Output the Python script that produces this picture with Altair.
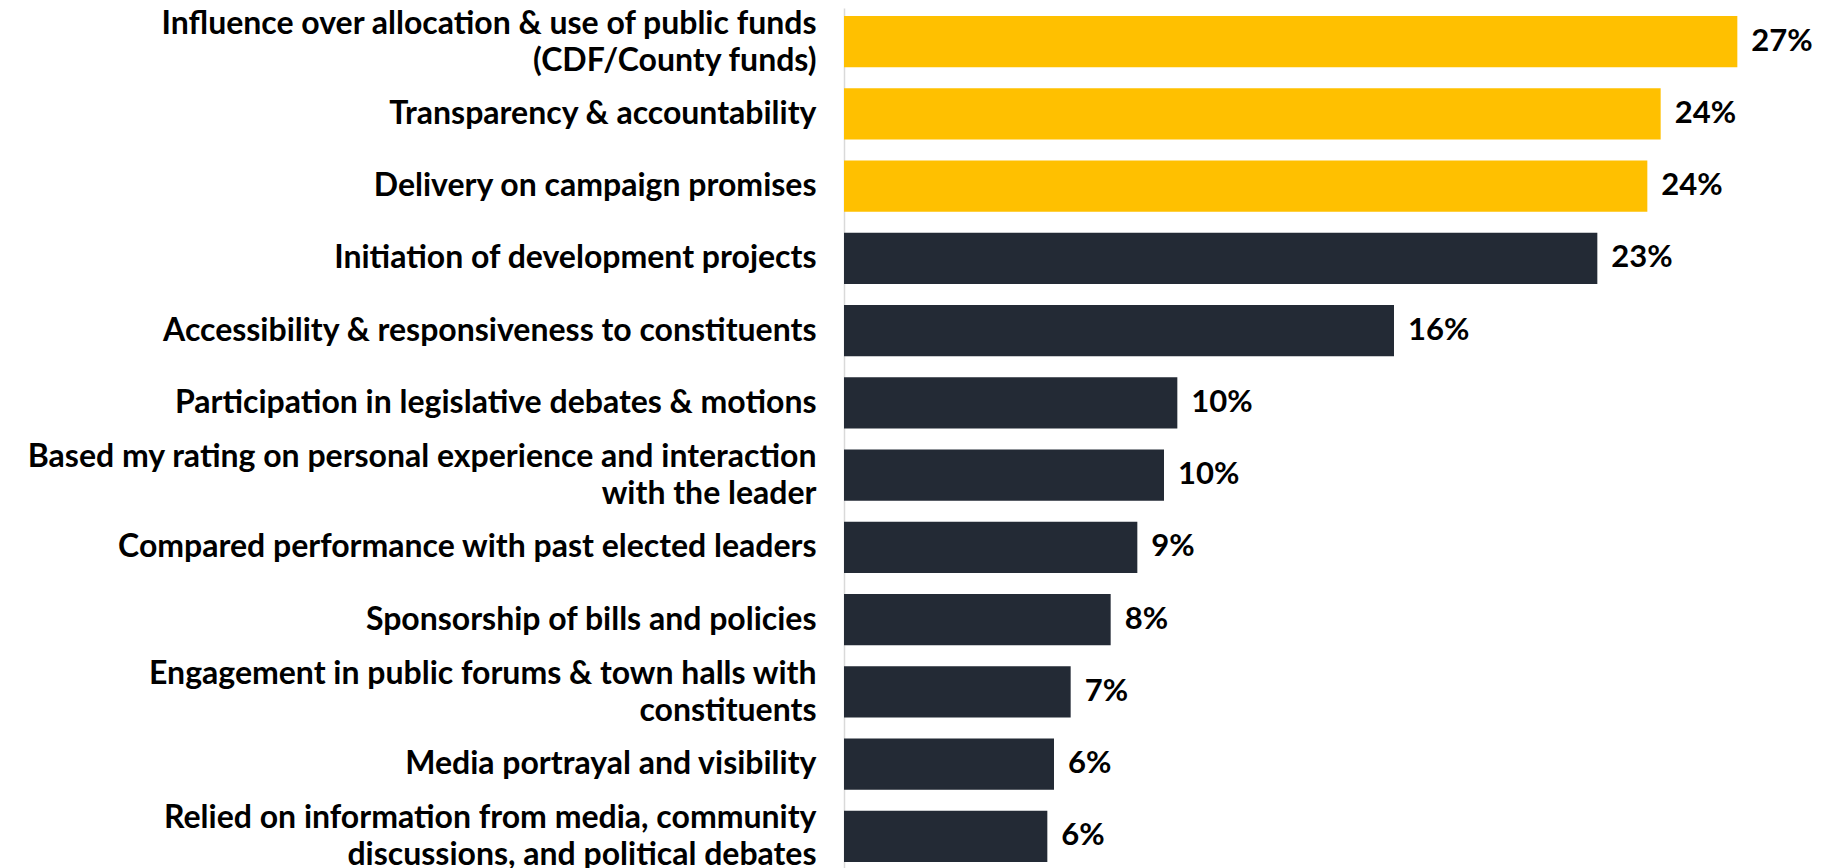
import altair as alt
import pandas as pd

categories = [
    "Influence over allocation & use of public funds|(CDF/County funds)",
    "Transparency & accountability",
    "Delivery on campaign promises",
    "Initiation of development projects",
    "Accessibility & responsiveness to constituents",
    "Participation in legislative debates & motions",
    "Based my rating on personal experience and interaction|with the leader",
    "Compared performance with past elected leaders",
    "Sponsorship of bills and policies",
    "Engagement in public forums & town halls with|constituents",
    "Media portrayal and visibility",
    "Relied on information from media, community|discussions, and political debates",
]
values = [26.8, 24.5, 24.1, 22.6, 16.5, 10.0, 9.6, 8.8, 8.0, 6.8, 6.3, 6.1]
value_labels = ["27%", "24%", "24%", "23%", "16%", "10%", "10%", "9%", "8%", "7%", "6%", "6%"]
highlight = ["top", "top", "top", "rest", "rest", "rest", "rest", "rest", "rest", "rest", "rest", "rest"]

df = pd.DataFrame({
    "category": categories,
    "value": values,
    "label": value_labels,
    "group": highlight,
})

y_enc = alt.Y(
    "category:N",
    sort=categories,
    scale=alt.Scale(paddingInner=0.29, paddingOuter=0.11),
    axis=alt.Axis(
        title=None,
        labelExpr="split(datum.label, '|')",
        labelFont="Lato",
        labelFontWeight="bold",
        labelFontSize=32,
        labelColor="#000000",
        labelLineHeight=37,
        labelLimit=900,
        labelPadding=28,
        labelOffset={"condition": {"test": "indexof(datum.label, '|') >= 0", "value": -18}, "value": 0},
        ticks=False,
        domainColor="#d9d9d9",
        domainWidth=1.5,
        grid=False,
    ),
)

x_enc = alt.X(
    "value:Q",
    scale=alt.Scale(domain=[0, 29.4], nice=False),
    axis=None,
)

bars = alt.Chart(df).mark_bar().encode(
    x=x_enc,
    y=y_enc,
    color=alt.Color(
        "group:N",
        scale=alt.Scale(domain=["top", "rest"], range=["#FFC000", "#232A35"]),
        legend=None,
    ),
)

texts = alt.Chart(df).mark_text(
    align="left",
    baseline="middle",
    dx=14,
    font="Lato",
    fontWeight="bold",
    fontSize=31,
    color="#000000",
).encode(
    x=x_enc,
    y=alt.Y("category:N", sort=categories),
    text="label:N",
)

chart = (
    alt.layer(bars, texts)
    .properties(
        width=980,
        height=862,
        autosize=alt.AutoSizeParams(type="none"),
        padding={"left": 836, "top": 0, "right": 0, "bottom": 0},
    )
    .configure_view(stroke=None)
)

chart.save("out.html", embed_options={"renderer": "svg", "actions": False})
